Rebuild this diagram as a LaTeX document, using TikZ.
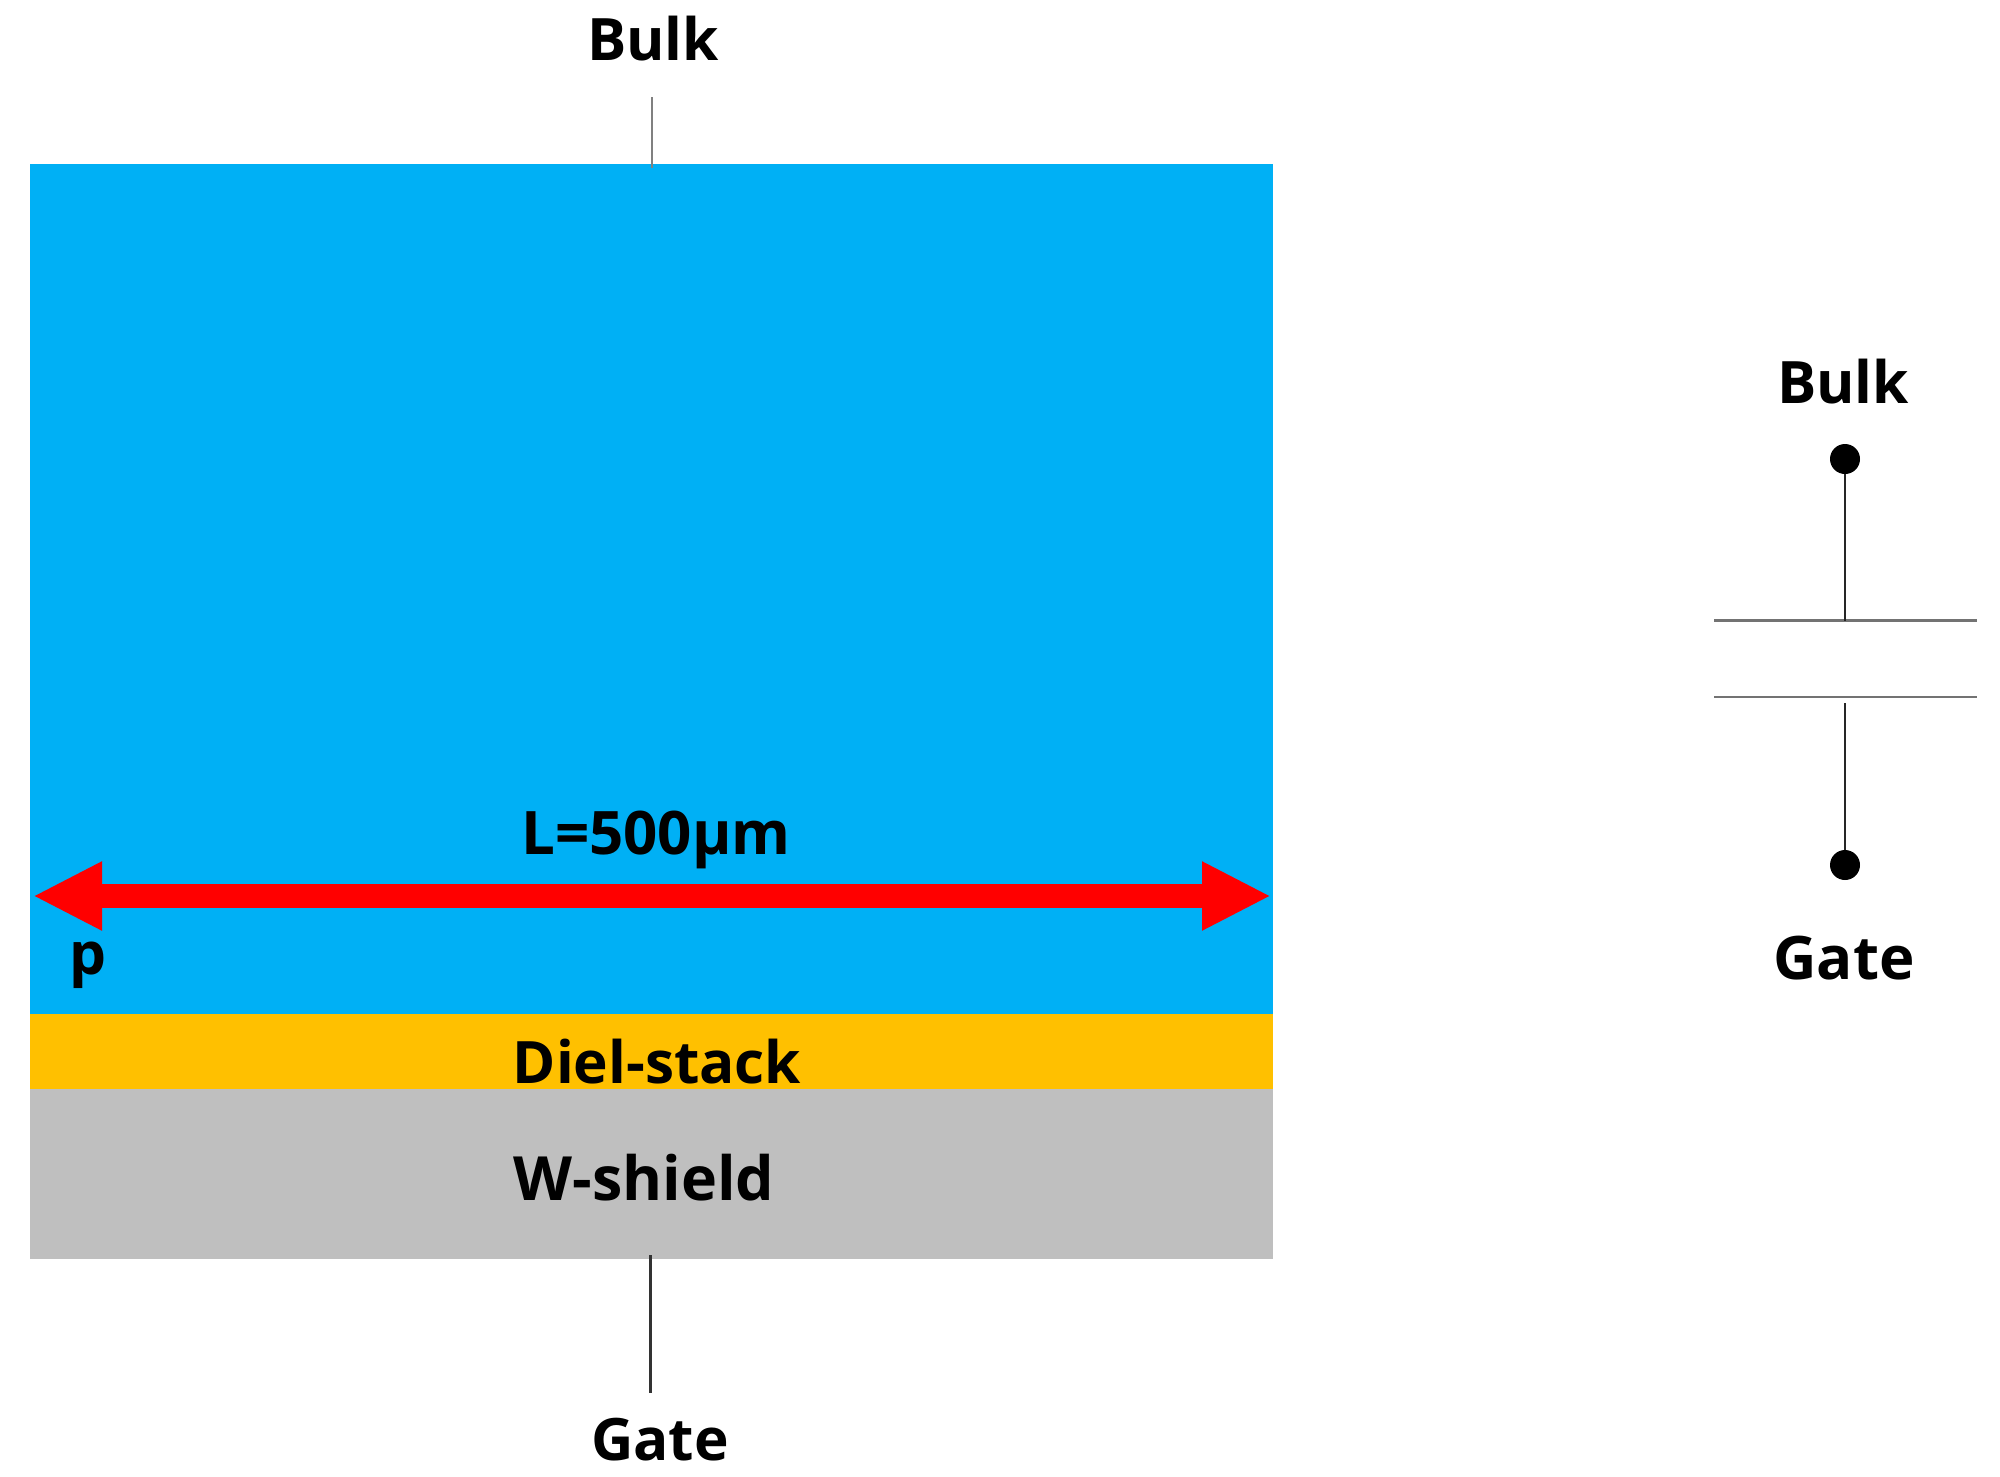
\documentclass[tikz,border=0pt]{standalone}
\usepackage{fontspec}
\setmainfont{Open Sans}
\usetikzlibrary{arrows.meta}
\definecolor{bluefill}{HTML}{00B0F5}
\definecolor{orangefill}{HTML}{FFC000}
\definecolor{grayfill}{HTML}{BFBFBF}
\tikzset{
  layer/.style={draw=none,inner sep=0pt,outer sep=0pt,minimum width=1243pt,anchor=north west},
  lbl/.style={inner sep=0pt,outer sep=0pt,anchor=base,text=black,font=\fontsize{#1}{70}\selectfont\bfseries},
  lbl/.default=58.5,
  wire/.style={line width=2.6pt,draw=#1},
  terminal/.style={circle,fill=black,inner sep=0pt,outer sep=0pt,minimum size=30pt},
  plate/.style={line width=2.4pt,draw=black!55},
  redarrow/.style={line width=24.5pt,draw=red,{Triangle[length=69pt,width=64pt]}-{Triangle[length=69pt,width=64pt]}}
}
\begin{document}
\begin{tikzpicture}[x=1pt,y=-1pt]
\useasboundingbox (0,0) rectangle (2000,1476);
% layers
\node[layer,fill=bluefill,minimum height=851pt] (si) at (30,163.5) {};
\node[layer,fill=orangefill,minimum height=75pt] (diel) at (30,1014) {};
\node[layer,fill=grayfill,minimum height=170pt] (shield) at (30,1089) {};
% length arrow
\coordinate (aL) at (33,896);
\coordinate (aR) at (1271,896);
\draw[redarrow] (aL) -- (aR);
% labels
\node[lbl] (bulkT) at (653,60) {Bulk};
\node[lbl] (gateB) at (660,1460) {Gate};
\node[lbl=60] (len) at (656,854) {L=500µm};
\node[lbl] (ptype) at (88.5,974) {p};
\node[lbl] (dieltxt) at (657,1083.5) {Diel-stack};
\node[lbl=61] (shieldtxt) at (644,1200.5) {W-shield};
% leads on the device
\coordinate (bwtop) at (652,97);
\coordinate (gwtop) at (650.5,1255);
\coordinate (gwbot) at (650.5,1393);
\draw[wire=black!50] (bwtop) -- ([yshift=-4pt]bwtop |- si.north);
\draw[wire=black!80] (gwtop) -- (gwbot);
% capacitor symbol
\node[lbl] (bulkR) at (1843,403) {Bulk};
\node[lbl=60] (gateR) at (1844,979) {Gate};
\node[terminal] (tB) at (1845,459) {};
\node[terminal] (tG) at (1845,865) {};
\coordinate (p1L) at (1714,620.5);
\coordinate (p1R) at (1977,620.5);
\coordinate (p2L) at (1714,697);
\coordinate (p2R) at (1977,697);
\coordinate (p1M) at (1845,620.5);
\coordinate (p2M) at (1845,703);
\draw[plate] (p1L) -- (p1R);
\draw[plate] (p2L) -- (p2R);
\draw[wire=black!85] (tB) -- (p1M);
\draw[wire=black!85] (p2M) -- (tG);
\end{tikzpicture}
\end{document}
